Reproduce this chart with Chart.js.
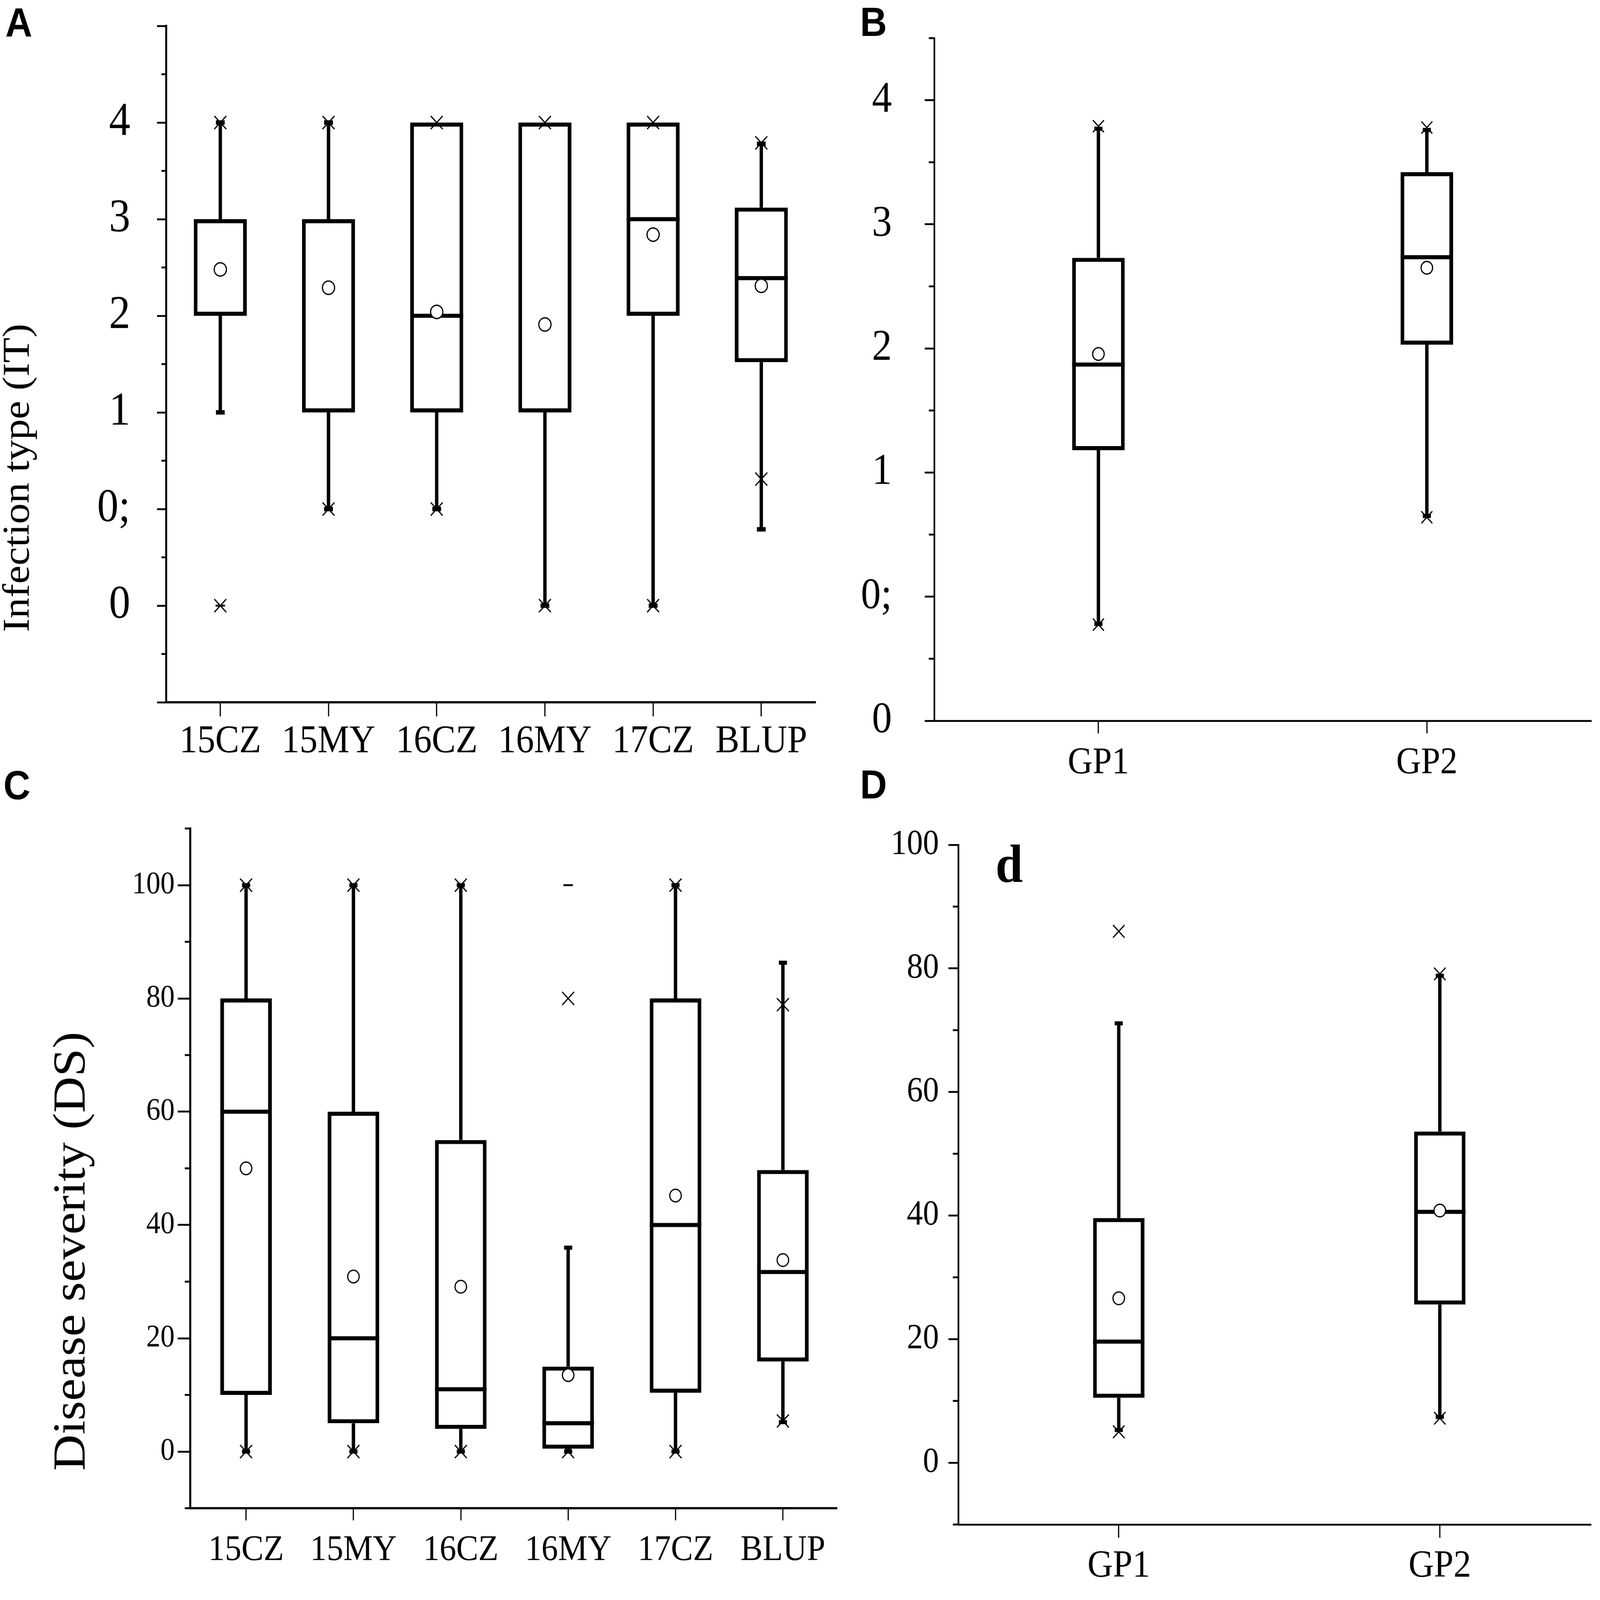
<!DOCTYPE html>
<html>
<head>
<meta charset="utf-8">
<script src="https://cdn.jsdelivr.net/npm/chart.js@4.4.1/dist/chart.umd.min.js"></script>
<style>
html, body { margin: 0; padding: 0; background: #fff; width: 100%; height: 100%; overflow: hidden; }
#stage { position: absolute; left: 0; top: 0; width: 4727px; height: 4322px; transform-origin: 0 0; background: #fff; overflow: hidden; }
canvas { position: absolute; }
.panel-letter { position: absolute; font-family: "Liberation Sans", Arial, sans-serif; font-weight: bold; font-size: 110px; line-height: 1; color: #000; }
.inner-letter { position: absolute; font-family: "Liberation Serif", "Times New Roman", serif; font-weight: bold; font-size: 145px; line-height: 1; color: #000; }
</style>
</head>
<body>
<div id="stage">
<canvas id="chartA" width="2450" height="2512" style="left:0px;top:0px;width:2450px;height:2512px"></canvas>
<canvas id="chartB" width="2277" height="2100" style="left:2450px;top:0px;width:2277px;height:2100px"></canvas>
<canvas id="chartC" width="2500" height="2422" style="left:0px;top:2100px;width:2500px;height:2422px"></canvas>
<canvas id="chartD" width="2227" height="2172" style="left:2500px;top:2150px;width:2227px;height:2172px"></canvas>
<div class="panel-letter" style="left:16px;top:5px">A</div>
<div class="panel-letter" style="left:2541px;top:4px">B</div>
<div class="panel-letter" style="left:10px;top:2066px">C</div>
<div class="panel-letter" style="left:2541px;top:2064px">D</div>
<div class="inner-letter" style="left:2941px;top:2262px">d</div>
</div>
<script>
// ---------------- DATA ----------------
// Panel A: infection type (IT) per environment; positions 0..5 carry the IT codes below
const itSites   = ['15CZ', '15MY', '16CZ', '16MY', '17CZ', 'BLUP'];
const itLevels  = ['0', '0;', '1', '2', '3', '4'];
const itLow     = [2, 1, 1, 0, 0, 0.79];
const itQ1      = [3, 2, 2, 2, 3, 2.52];
const itMedian  = [3, 2, 3, 2, 4, 3.39];
const itQ3      = [4, 4, 5, 5, 5, 4.12];
const itHigh    = [5, 5, 5, 5, 5, 4.78];
const itMean    = [3.48, 3.29, 3.04, 2.91, 3.84, 3.31];
const itUpperX  = [5, 5, 5, 5, 5, 4.79];
const itLowerX  = [0, 1, 1, 0, 0, 1.31];
const itExtreme = [0, null, null, null, null, null];

// Panel B: IT by group
const gpGroups   = ['GP1', 'GP2'];
const gpItLow    = [0.78, 1.65];
const gpItQ1     = [2.18, 3.03];
const gpItMedian = [2.87, 3.735];
const gpItQ3     = [3.73, 4.42];
const gpItHigh   = [4.77, 4.76];
const gpItMean   = [2.955, 3.65];
const gpItUpperX = [4.79, 4.78];
const gpItLowerX = [0.775, 1.64];

// Panel C: disease severity (DS) per environment
const dsSites   = ['15CZ', '15MY', '16CZ', '16MY', '17CZ', 'BLUP'];
const dsLow     = [0, 0, 0, 0, 0, 5.2];
const dsQ1      = [10, 5, 4, 0.5, 10.4, 15.9];
const dsMedian  = [60, 20, 11, 5, 40, 31.7];
const dsQ3      = [80, 60, 55, 15, 80, 49.7];
const dsHigh    = [100, 100, 100, 36, 100, 86.3];
const dsMean    = [50, 30.9, 29.1, 13.5, 45.2, 33.8];
const dsUpperX  = [100, 100, 100, 80, 100, 78.9];
const dsLowerX  = [0, 0, 0, 0, 0, 5.4];
const dsExtreme = [null, null, null, 100, null, null];
const dsTickValues = [0, 20, 40, 60, 80, 100];

// Panel D: DS by group
const gpDsLow    = [5.3, 7.4];
const gpDsQ1     = [10.5, 25.6];
const gpDsMedian = [19.6, 40.6];
const gpDsQ3     = [39.6, 53.6];
const gpDsHigh   = [71.1, 78.8];
const gpDsMean   = [26.6, 40.8];
const gpDsUpperX = [86.0, 79.1];
const gpDsLowerX = [5.0, 7.2];

// ---------------- FIT THE 4727x4322 FIGURE INTO THE WINDOW ----------------
(function fitStage() {
  const sx = window.innerWidth / 4727, sy = window.innerHeight / 4322;
  document.getElementById('stage').style.transform = 'scale(' + sx + ',' + sy + ')';
})();

// ---------------- RENDERING ----------------
const SERIF = '"Liberation Serif", "Times New Roman", serif';
Chart.defaults.font.family = SERIF;
Chart.defaults.color = '#000';

function range(a, b, step) {
  const r = [];
  for (let v = a; v <= b + 1e-9; v += step) r.push(Math.round(v * 1000) / 1000);
  return r;
}

function minorTicks(values, length, width) {
  return {
    id: 'minorTicks',
    afterDraw(chart) {
      const y = chart.scales.y, ctx = chart.ctx;
      ctx.save();
      ctx.strokeStyle = '#000';
      ctx.lineWidth = width;
      ctx.lineCap = 'butt';
      values.forEach(v => {
        const py = y.getPixelForValue(v);
        ctx.beginPath();
        ctx.moveTo(y.right - length, py);
        ctx.lineTo(y.right, py);
        ctx.stroke();
      });
      ctx.restore();
    }
  };
}

function drawPanel(p) {
  const s = p.stats, st = p.style;
  const idx = p.cats.map((_, i) => i);
  const half = p.boxPct / 2;

  const boxes = idx.map(i => ({ x: i, y: [s.q1[i], s.q3[i]] }));
  const whiskers = [];
  idx.forEach(i => {
    whiskers.push({ x: i, y: s.q3[i] }, { x: i, y: s.high[i] }, { x: i, y: null });
    whiskers.push({ x: i, y: s.q1[i] }, { x: i, y: s.low[i] }, { x: i, y: null });
  });
  // a median lying on a box edge is hidden by that edge, as in the original
  const medians = [];
  idx.forEach(i => {
    if (s.median[i] > s.q1[i] && s.median[i] < s.q3[i]) {
      medians.push({ x: i - half, y: s.median[i] }, { x: i + half, y: s.median[i] }, { x: i, y: null });
    }
  });
  const caps = [];
  idx.forEach(i => {
    if (s.high[i] > s.q3[i]) caps.push({ x: i, y: s.high[i] });
    if (s.low[i] < s.q1[i]) caps.push({ x: i, y: s.low[i] });
  });
  const crosses = [];
  idx.forEach(i => crosses.push({ x: i, y: s.upperX[i] }, { x: i, y: s.lowerX[i] }));
  const extremes = [];
  if (s.extreme) idx.forEach(i => { if (s.extreme[i] !== null) extremes.push({ x: i, y: s.extreme[i] }); });
  const means = idx.map(i => ({ x: i, y: s.mean[i] }));

  const titleOpts = p.title ? {
    display: true, text: p.title.text, position: 'left', align: 'center', color: '#000',
    font: { family: SERIF, size: p.title.size, weight: 'normal', lineHeight: 1 },
    padding: { top: p.title.pad, bottom: 0 }
  } : { display: false };

  new Chart(document.getElementById(p.canvas), {
    type: 'bar',
    data: {
      datasets: [
        { type: 'bar', label: 'box', data: boxes, backgroundColor: '#fff', borderColor: '#000',
          borderWidth: st.box, borderSkipped: false, barPercentage: p.boxPct, categoryPercentage: 1, order: 5 },
        { type: 'line', label: 'whiskers', data: whiskers, borderColor: '#000', borderWidth: st.whisker,
          pointRadius: 0, spanGaps: false, fill: false, tension: 0, order: 4 },
        { type: 'line', label: 'median', data: medians, borderColor: '#000', borderWidth: st.median,
          pointRadius: 0, spanGaps: false, fill: false, tension: 0, order: 3 },
        { type: 'scatter', label: 'whisker ends', data: caps, pointStyle: 'line', pointRadius: st.capR,
          pointBorderWidth: st.capW, pointBorderColor: '#000', order: 2 },
        { type: 'scatter', label: 'min/max', data: extremes, pointStyle: 'line', pointRadius: 14,
          pointBorderWidth: 5, pointBorderColor: '#000', order: 2 },
        { type: 'scatter', label: '1%/99%', data: crosses, pointStyle: 'crossRot', pointRadius: st.crossR,
          pointBorderWidth: 3.5, pointBorderColor: '#000', order: 1 },
        { type: 'scatter', label: 'mean', data: means, pointStyle: 'circle', pointRadius: st.meanR,
          pointBorderWidth: 3.5, pointBorderColor: '#000', pointBackgroundColor: '#fff', order: 0 }
      ]
    },
    options: {
      responsive: false, animation: false, devicePixelRatio: 1, events: [],
      layout: { padding: { top: p.pad.top, right: p.pad.right, bottom: 0, left: 0 } },
      plugins: { legend: { display: false }, tooltip: { enabled: false }, title: titleOpts },
      scales: {
        x: {
          type: 'linear', min: p.xMin, max: p.xMax, offset: false,
          afterBuildTicks: sc => { sc.ticks = idx.map(i => ({ value: i })); },
          afterFit: sc => { sc.height = p.xHeight; sc.paddingLeft = 0; sc.paddingRight = 0; },
          ticks: { autoSkip: false, maxRotation: 0, minRotation: 0, padding: st.xPad, color: '#000',
                   font: { family: SERIF, size: st.xFont, lineHeight: 1.2 }, callback: v => p.cats[v] },
          grid: { display: true, drawOnChartArea: false, drawTicks: true, offset: false,
                  tickLength: st.xTickLen, tickWidth: 3.5, lineWidth: 3.5, tickColor: '#000' },
          border: { display: true, color: '#000', width: st.axisW }
        },
        y: {
          type: 'linear', min: p.yMin, max: p.yMax, beginAtZero: false,
          afterBuildTicks: sc => { sc.ticks = p.yMajor.map(v => ({ value: v })); },
          afterFit: sc => { sc.width = p.yWidth; sc.paddingTop = 0; sc.paddingBottom = 0; },
          ticks: { autoSkip: false, padding: st.yPad, color: '#000',
                   font: { family: SERIF, size: st.yFont, lineHeight: 1.2 }, callback: p.yLabel },
          grid: { display: true, drawOnChartArea: false, drawTicks: true,
                  tickLength: st.yTickLen, tickWidth: st.yTickW, lineWidth: st.yTickW, tickColor: '#000' },
          border: { display: true, color: '#000', width: st.axisW }
        }
      }
    },
    plugins: [minorTicks(p.yMinor, st.yMinorLen, st.yTickW)]
  });
}

drawPanel({
  canvas: 'chartA', cats: itSites, boxPct: 0.49,
  stats: { low: itLow, q1: itQ1, median: itMedian, q3: itQ3, high: itHigh, mean: itMean,
           upperX: itUpperX, lowerX: itLowerX, extreme: itExtreme },
  xMin: -0.5, xMax: 5.5, yMin: -1, yMax: 6,
  yMajor: range(-1, 6, 1), yMinor: range(-0.5, 5.5, 1),
  yLabel: v => (itLevels[v] !== undefined ? itLevels[v] : ''),
  title: { text: 'Infection type (IT)', size: 112, pad: 0 },
  pad: { top: 70, right: 41 }, yWidth: 379, xHeight: 615,
  style: { box: 11, whisker: 10, median: 11, capR: 13, capW: 12, crossR: 25, meanR: 18, axisW: 6,
           yTickLen: 27, yMinorLen: 14, yTickW: 5, yPad: 79, yFont: 126,
           xFont: 106, xTickLen: 38, xPad: 6 }
});

drawPanel({
  canvas: 'chartB', cats: gpGroups, boxPct: 0.16,
  stats: { low: gpItLow, q1: gpItQ1, median: gpItMedian, q3: gpItQ3, high: gpItHigh, mean: gpItMean,
           upperX: gpItUpperX, lowerX: gpItLowerX },
  xMin: -0.5, xMax: 1.5, yMin: 0, yMax: 5.5,
  yMajor: range(0, 5, 1), yMinor: range(0.5, 5.5, 1),
  yLabel: v => (itLevels[v] !== undefined ? itLevels[v] : ''),
  title: null,
  pad: { top: 103, right: 10 }, yWidth: 310, xHeight: 153,
  style: { box: 11, whisker: 10, median: 11, capR: 12, capW: 11, crossR: 23, meanR: 17, axisW: 5,
           yTickLen: 28, yMinorLen: 16, yTickW: 5, yPad: 97, yFont: 118,
           xFont: 102, xTickLen: 34, xPad: 20 }
});

drawPanel({
  canvas: 'chartC', cats: dsSites, boxPct: 0.48,
  stats: { low: dsLow, q1: dsQ1, median: dsMedian, q3: dsQ3, high: dsHigh, mean: dsMean,
           upperX: dsUpperX, lowerX: dsLowerX, extreme: dsExtreme },
  xMin: -0.52, xMax: 5.5, yMin: -10, yMax: 110,
  yMajor: dsTickValues, yMinor: range(-10, 110, 20),
  yLabel: v => String(v),
  title: { text: 'Disease severity (DS)', size: 136, pad: 146 },
  pad: { top: 138, right: 9 }, yWidth: 280, xHeight: 448,
  style: { box: 11, whisker: 10, median: 11, capR: 12, capW: 11, crossR: 25, meanR: 17, axisW: 6,
           yTickLen: 37, yMinorLen: 16, yTickW: 5, yPad: 9, yFont: 84,
           xFont: 98, xTickLen: 33, xPad: 22 }
});

drawPanel({
  canvas: 'chartD', cats: gpGroups, boxPct: 0.16,
  stats: { low: gpDsLow, q1: gpDsQ1, median: gpDsMedian, q3: gpDsQ3, high: gpDsHigh, mean: gpDsMean,
           upperX: gpDsUpperX, lowerX: gpDsLowerX },
  xMin: -0.5, xMax: 1.47, yMin: -10, yMax: 100,
  yMajor: dsTickValues, yMinor: range(-10, 90, 20),
  yLabel: v => String(v),
  title: null,
  pad: { top: 132, right: 11 }, yWidth: 331, xHeight: 204,
  style: { box: 11, whisker: 10, median: 11, capR: 12, capW: 11, crossR: 24, meanR: 17, axisW: 5,
           yTickLen: 29, yMinorLen: 16, yTickW: 5, yPad: 28, yFont: 95,
           xFont: 104, xTickLen: 36, xPad: 15 }
});
</script>
</body>
</html>
